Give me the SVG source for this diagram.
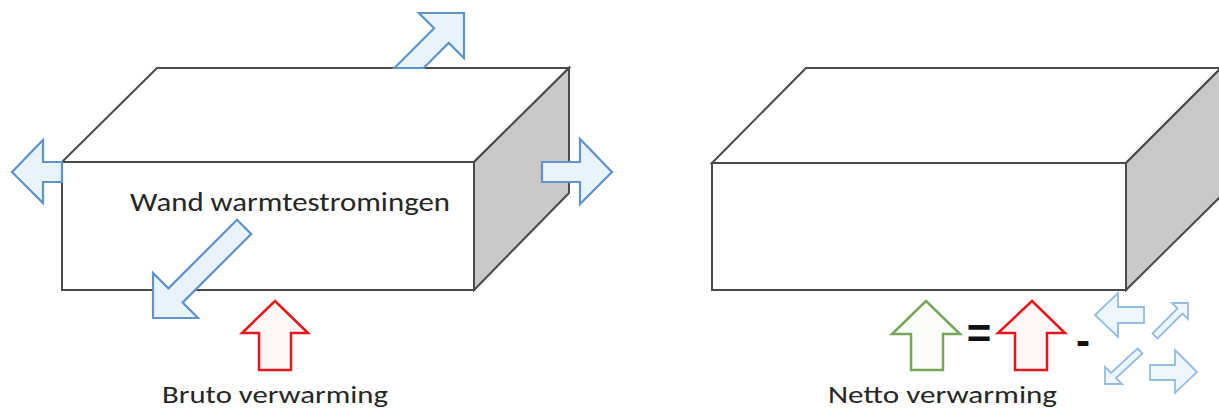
<svg xmlns="http://www.w3.org/2000/svg" width="1219" height="410" viewBox="0 0 1219 410">
  <style>
    .edge { fill: #ffffff; stroke: #4a4a4a; stroke-width: 2; stroke-linejoin: miter; }
    .side { fill: #c9c9c9; stroke: #4a4a4a; stroke-width: 2; }
    .blue { fill: #e8f3fc; stroke: #5f93c9; stroke-width: 2.2; stroke-linejoin: miter; }
    .lblue { fill: #eef7fd; stroke: #93bde3; stroke-width: 1.8; stroke-linejoin: miter; }
    .red { fill: #fff6f6; stroke: #e3161b; stroke-width: 2.5; stroke-linejoin: miter; }
    .green { fill: #fbfdf8; stroke: #77a65a; stroke-width: 2.5; stroke-linejoin: miter; }
    .lbl { font-family: Carlito, Calibri, "Liberation Sans", sans-serif; fill: #262626; }
    .op { font-family: "Liberation Sans", Arial, sans-serif; font-weight: bold; fill: #111111; }
  </style>

  <!-- Left box -->
  <g id="box-left">
    <polygon class="edge" points="62,162 157,68 569,68 474,162"/>
    <polygon class="side" points="474,162 569,68 569,193 474,290"/>
    <rect class="edge" x="62" y="162" width="412" height="128"/>
    <text class="lbl" x="130" y="211" font-size="27.5" textLength="320" lengthAdjust="spacingAndGlyphs">Wand warmtestromingen</text>
  </g>

  <!-- Right box -->
  <g id="box-right">
    <polygon class="edge" points="712,163 806,68 1221,68 1126,163"/>
    <polygon class="side" points="1126,163 1221,68 1221,196 1126,290"/>
    <rect class="edge" x="712" y="163" width="414" height="127"/>
  </g>

  <!-- Heat flow arrows (left diagram) -->
  <g id="flows-left">
    <g id="arrow-up-right">
      <polygon class="blue" points="394.4,68 434.1,28.3 418.8,13 464,13 464,58.2 448.7,42.9 423.6,68"/>
    </g>
    <g id="arrow-left">
      <polygon class="blue" points="62,162 43,162 43,140 12,172 43,203 43,182 62,182"/>
    </g>
    <g id="arrow-right">
      <polygon class="blue" points="542,162 580,162 580,139 612,172 580,204 580,182 542,182"/>
    </g>
    <g id="arrow-down-left">
      <polygon class="blue" points="237,219.8 251.2,234 182.6,302.6 198,318 153,318 153,273 168.4,288.4"/>
    </g>
    <g id="arrow-bruto">
      <polygon class="red" points="275,301 308,333 291,333 291,370 259,370 259,333 242,333"/>
    </g>
    <text class="lbl" x="162" y="403" font-size="25" textLength="226" lengthAdjust="spacingAndGlyphs">Bruto verwarming</text>
  </g>

  <!-- Equation (right diagram) -->
  <g id="equation">
    <g id="arrow-netto">
      <polygon class="green" points="926,301 960,334 943,334 943,370 911,370 911,334 892,334"/>
    </g>
    <text class="op" x="979" y="348" font-size="42" text-anchor="middle">=</text>
    <g id="arrow-bruto-2">
      <polygon class="red" points="1032,301 1065,333 1047,333 1047,370 1015,370 1015,333 998,333"/>
    </g>
    <text class="op" x="1083" y="355" font-size="42" text-anchor="middle">-</text>
    <g id="small-flows">
      <polygon class="lblue" points="1095,315 1118,293 1118,307 1144,307 1144,323 1118,323 1118,337"/>
      <polygon class="lblue" points="1152.5,333.5 1177.5,308.5 1172,303 1188,303 1188,319 1182.5,313.5 1157.5,338.5"/>
      <polygon class="lblue" points="1137.5,348.5 1142.5,353.5 1116,378 1122,384 1105,384 1105,367 1111,373"/>
      <polygon class="lblue" points="1150,365 1175,365 1175,350 1197,372 1175,393 1175,380 1150,380"/>
    </g>
    <text class="lbl" x="828" y="403" font-size="25" textLength="229" lengthAdjust="spacingAndGlyphs">Netto verwarming</text>
  </g>

  <g id="connectors"></g>
</svg>
